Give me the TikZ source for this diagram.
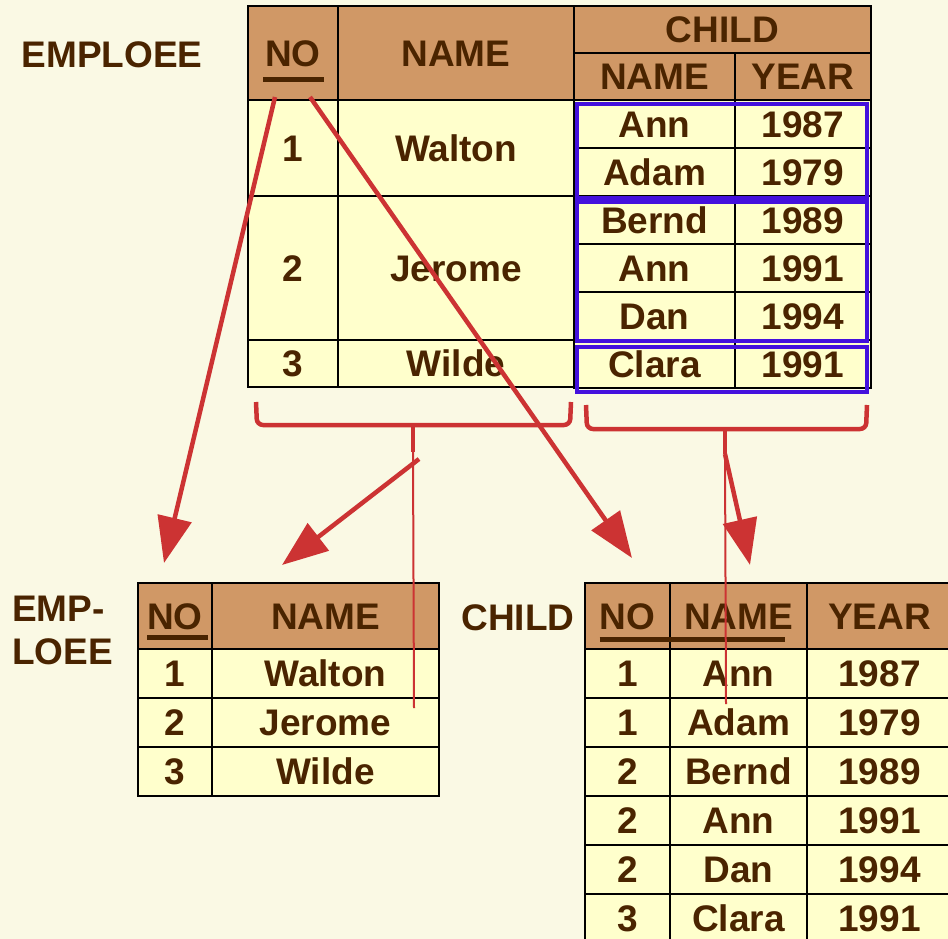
\documentclass[tikz,border=0pt]{standalone}
\usepackage{fontspec}
\setmainfont{Liberation Sans}
\usepackage{tikz}
\usetikzlibrary{arrows.meta,positioning,calc}
\definecolor{paper}{HTML}{FAF9E4}
\definecolor{hdbrown}{HTML}{D09866}
\definecolor{rowyellow}{HTML}{FFFFCC}
\definecolor{ink}{HTML}{4A2400}
\definecolor{arrowred}{HTML}{CC3333}
\definecolor{grpblue}{HTML}{4411DD}
\newcommand{\tabfont}{\fontsize{37}{43}\selectfont\bfseries}
\tikzset{
  headcell/.style={draw=black,line width=2pt,fill=hdbrown,anchor=north west,inner sep=0pt,
    outer sep=0pt,font=\tabfont,text=ink,text height=26.5pt,text depth=0pt},
  bodycell/.style={headcell,fill=rowyellow},
  tablabel/.style={font=\tabfont,text=ink,inner sep=0pt},
  keyline/.style={draw=ink,line width=5pt},
  grpbox/.style={draw=grpblue,line width=4.5pt},
  bracket/.style={draw=arrowred,line width=4.5pt,rounded corners=6pt},
  redarrow/.style={-{Triangle[length=46pt,width=34pt]},draw=arrowred,line width=4.5pt},
  thinred/.style={draw=arrowred,line width=2pt}
}
\begin{document}
\begin{tikzpicture}[x=1pt,y=-1pt]
  \fill[paper] (0,0) rectangle (948,939);
  \useasboundingbox (0,0) rectangle (948,939);
  % nested table
  \node[tablabel,anchor=base] (lemp) at (112,68) {EMPLOEE};
  \node[headcell,minimum width=90pt,minimum height=94pt] (tno) at (248,6) {NO};
  \node[headcell,minimum width=236pt,minimum height=94pt] (tname) at (338,6) {NAME};
  \node[headcell,minimum width=297pt,minimum height=47pt] (tchild) at (574,6) {CHILD};
  \node[headcell,minimum width=161pt,minimum height=47pt] (tcname) at (574,53) {NAME};
  \node[headcell,minimum width=136pt,minimum height=47pt] (tcyear) at (735,53) {YEAR};
  \node[bodycell,minimum width=90pt,minimum height=96pt] (tno1) at (248,100) {1};
  \node[bodycell,minimum width=236pt,minimum height=96pt] (tname1) at (338,100) {Walton};
  \node[bodycell,minimum width=90pt,minimum height=144pt] (tno2) at (248,196) {2};
  \node[bodycell,minimum width=236pt,minimum height=144pt] (tname2) at (338,196) {Jerome};
  \node[bodycell,minimum width=90pt,minimum height=47pt] (tno3) at (248,340) {3};
  \node[bodycell,minimum width=236pt,minimum height=47pt] (tname3) at (338,340) {Wilde};
  \foreach \nm/\yr [count=\i from 0] in {Ann/1987,Adam/1979,Bernd/1989,Ann/1991,Dan/1994,Clara/1991} {
    \node[bodycell,minimum width=161pt,minimum height=48pt] (tcn\i) at (574,{100+48*\i}) {\nm};
    \node[bodycell,minimum width=136pt,minimum height=48pt] (tcy\i) at (735,{100+48*\i}) {\yr};
  }
  \draw[keyline] ([xshift=-30pt,yshift=-27pt]tno.center) -- ++(61,0);
  % groups of children
  \draw[grpbox] (577,104) rectangle (867,198);
  \draw[grpbox] (577,202) rectangle (867,341);
  \draw[grpbox] (577,347) rectangle (867,392);

  % flat tables
  \node[tablabel,anchor=north west,align=left] (lemp2) at (12,596) {EMP-\\LOEE};
  \node[headcell,minimum width=74pt,minimum height=66pt] (eno) at (138,583) {NO};
  \node[headcell,minimum width=227pt,minimum height=66pt] (ename) at (212,583) {NAME};
  \foreach \nm [count=\i from 0] in {Walton,Jerome,Wilde} {
    \node[bodycell,minimum width=74pt,minimum height=49pt] (eno\i) at (138,{649+49*\i}) {\the\numexpr\i+1\relax};
    \node[bodycell,minimum width=227pt,minimum height=49pt] (ename\i) at (212,{649+49*\i}) {\nm};
  }
  \draw[keyline] ([xshift=-28pt,yshift=-21pt]eno.center) -- ++(61,0);

  \node[tablabel,anchor=base] (lchild) at (518,630) {CHILD};
  \node[headcell,minimum width=85pt,minimum height=66pt] (cno) at (585,583) {NO};
  \node[headcell,minimum width=137pt,minimum height=66pt] (cname) at (670,583) {NAME};
  \node[headcell,minimum width=145pt,minimum height=66pt] (cyear) at (807,583) {YEAR};
  \foreach \n/\nm/\yr [count=\i from 0] in {1/Ann/1987,1/Adam/1979,2/Bernd/1989,2/Ann/1991,2/Dan/1994,3/Clara/1991} {
    \node[bodycell,minimum width=85pt,minimum height=49pt] (cno\i) at (585,{649+49*\i}) {\n};
    \node[bodycell,minimum width=137pt,minimum height=49pt] (cname\i) at (670,{649+49*\i}) {\nm};
    \node[bodycell,minimum width=145pt,minimum height=49pt] (cyear\i) at (807,{649+49*\i}) {\yr};
  }
  \draw[keyline] ([xshift=-28pt,yshift=-23pt]cno.center) -- ++(185,0);

  % braces and arrows
  \coordinate (lbrace) at (413,452);
  \coordinate (rbrace) at (725,454);
  \draw[bracket] (256,402) -- (257,425) -- (570,425) -- (571,402);
  \draw[bracket] (586,405) -- (587,429) -- (866,429) -- (867,405);
  \draw[draw=arrowred,line width=4.5pt] (413,425) -- (lbrace);
  \draw[draw=arrowred,line width=4.5pt] (725,429) -- (rbrace);
  \coordinate (lend) at (414,708);
  \coordinate (rend) at (726,704);
  \draw[thinred] (lbrace) -- (lend);
  \draw[thinred] (rbrace) -- (rend);
  \coordinate (a1) at (164,563);
  \coordinate (a2) at (632,558);
  \coordinate (a3) at (282,565);
  \coordinate (a4) at (750,565);
  \draw[redarrow] ([xshift=-18pt,yshift=3pt]tno.south) -- (a1);
  \draw[redarrow] ([xshift=17pt,yshift=3pt]tno.south) -- (a2);
  \draw[redarrow] ([xshift=6pt,yshift=-7pt]lbrace) -- (a3);
  \draw[redarrow] (rbrace) -- (a4);
\end{tikzpicture}
\end{document}
